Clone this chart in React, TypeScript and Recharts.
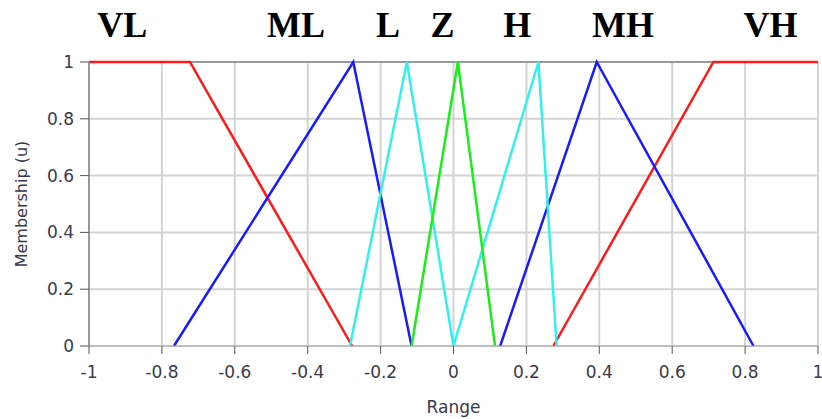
import React from 'react';
import { LineChart, Line, XAxis, YAxis, CartesianGrid, ReferenceLine, ReferenceDot } from 'recharts';

const xTicks = [-1, -0.8, -0.6, -0.4, -0.2, 0, 0.2, 0.4, 0.6, 0.8, 1];
const yTicks = [0, 0.2, 0.4, 0.6, 0.8, 1];

const setNames = ['VL', 'ML', 'L', 'Z', 'H', 'MH', 'VH'];
const setLabelX = [-0.909, -0.432, -0.18, -0.03, 0.175, 0.465, 0.87];

const vlX = [-1, -0.723, -0.278];
const vlY = [1, 1, 0];
const mlX = [-0.767, -0.275, -0.115];
const mlY = [0, 1, 0];
const lX = [-0.284, -0.128, 0.0];
const lY = [0, 1, 0];
const zX = [-0.115, 0.012, 0.114];
const zY = [0, 1, 0];
const hX = [0.0, 0.233, 0.283];
const hY = [0, 1, 0];
const mhX = [0.128, 0.393, 0.823];
const mhY = [0, 1, 0];
const vhX = [0.274, 0.713, 1];
const vhY = [0, 1, 1];

const series = [
  { name: 'VL', xs: vlX, ys: vlY, color: '#ff1a1a' },
  { name: 'VH', xs: vhX, ys: vhY, color: '#ff1a1a' },
  { name: 'ML', xs: mlX, ys: mlY, color: '#1a1aff' },
  { name: 'MH', xs: mhX, ys: mhY, color: '#1a1aff' },
  { name: 'L', xs: lX, ys: lY, color: '#33f0f0' },
  { name: 'H', xs: hX, ys: hY, color: '#33f0f0' },
  { name: 'Z', xs: zX, ys: zY, color: '#1aee1a' },
];

const toData = (xs: number[], ys: number[]) => xs.map((x, i) => ({ x, y: ys[i] }));

const tickFont = { fontFamily: 'DejaVu Sans', fontSize: 17, fill: '#3a3a4a' };

export default function App() {
  return (
    <div style={{ position: 'absolute', left: 0, top: 0, width: 822, height: 419, background: '#fff' }}>
      <LineChart width={822} height={419} margin={{ top: 62, right: 4, left: 0, bottom: 0 }}>
        <CartesianGrid stroke="#d4d4d4" strokeWidth={2} horizontalValues={yTicks} verticalValues={xTicks} />
        <XAxis
          type="number"
          dataKey="x"
          domain={[-1, 1]}
          ticks={xTicks}
          interval={0}
          height={73}
          axisLine={{ stroke: '#aaaaaa', strokeWidth: 1 }}
          tickLine={{ stroke: '#555' }}
          tickSize={8}
          tickMargin={12}
          tick={tickFont}
          tickFormatter={(v: number) => String(v)}
          label={{ value: 'Range', position: 'insideBottom', offset: 6, style: { fontFamily: 'DejaVu Sans', fontSize: 17, fill: '#3a3a4a' } }}
        />
        <YAxis
          type="number"
          domain={[0, 1]}
          ticks={yTicks}
          interval={0}
          width={89}
          axisLine={{ stroke: '#999999', strokeWidth: 2 }}
          tickLine={{ stroke: '#555' }}
          tickSize={9}
          tickMargin={6}
          tick={tickFont}
          tickFormatter={(v: number) => String(v)}
          label={{ value: 'Membership (u)', angle: -90, position: 'insideLeft', offset: 21, style: { fontFamily: 'DejaVu Sans', fontSize: 16, fill: '#3a3a4a', textAnchor: 'middle' } }}
        />
        <ReferenceLine y={1} stroke="#999999" strokeWidth={2} />
        {series.map((s) => (
          <Line
            key={s.name}
            data={toData(s.xs, s.ys)}
            dataKey="y"
            type="linear"
            stroke={s.color}
            strokeWidth={2.5}
            dot={false}
            isAnimationActive={false}
          />
        ))}
        {setNames.map((n, i) => (
          <ReferenceDot
            key={n}
            x={setLabelX[i]}
            y={1}
            r={0}
            fill="none"
            stroke="none"
            ifOverflow="visible"
            label={{ value: n, position: 'top', offset: 25, style: { fontFamily: 'Liberation Serif', fontWeight: 'bold', fontSize: 36, fill: '#000' } }}
          />
        ))}
      </LineChart>
    </div>
  );
}
